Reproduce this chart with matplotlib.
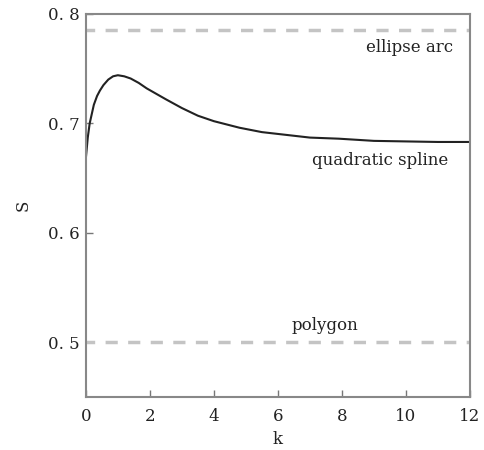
import numpy as np
import matplotlib
matplotlib.use("Agg")
import matplotlib.pyplot as plt

# curve
k = [0, 0.06, 0.12, 0.25, 0.35, 0.44, 0.55, 0.7, 0.85, 1.0, 1.2, 1.4, 1.65,
     1.9, 2.2, 2.5, 3.0, 3.5, 4.0, 4.8, 5.5, 6.4, 7.0, 7.9, 9.0, 10.0, 11.0, 12.0]
s = [0.668, 0.687, 0.700, 0.717, 0.725, 0.730, 0.735, 0.740, 0.743, 0.744,
     0.743, 0.741, 0.737, 0.732, 0.727, 0.722, 0.714, 0.707, 0.702, 0.696,
     0.692, 0.689, 0.687, 0.686, 0.684, 0.6835, 0.683, 0.683]

ellipse_arc = 0.785
polygon = 0.5

xticks = [0, 2, 4, 6, 8, 10, 12]
yticks = [0.5, 0.6, 0.7, 0.8]
ytick_labels = ["0. 5", "0. 6", "0. 7", "0. 8"]

plt.rcParams['font.family'] = ['DejaVu Serif']

fig = plt.figure(figsize=(4.85, 4.5), dpi=100)
ax = fig.add_axes([0.177, 0.118, 0.792, 0.851])

ax.axhline(ellipse_arc, color="#c4c4c4", lw=2.5, ls=(1, (3.5, 3)))
ax.axhline(polygon, color="#c4c4c4", lw=2.5, ls=(1, (3.5, 3)))
ax.plot(k, s, color="#222222", lw=1.5)

ax.text(11.47, 0.769, "ellipse arc", ha="right", va="center", fontsize=12, color="#222222")
ax.text(11.31, 0.6664, "quadratic spline", ha="right", va="center", fontsize=12, color="#222222")
ax.text(7.47, 0.5155, "polygon", ha="center", va="center", fontsize=12, color="#222222")

ax.set_xlim(0, 12)
ax.set_ylim(0.45, 0.8)
ax.set_xticks(xticks)
ax.set_yticks(yticks)
ax.set_yticklabels(ytick_labels)
ax.tick_params(direction="in", length=5, width=1, color="#777777",
               labelsize=12, labelcolor="#222222")
ax.tick_params(axis="x", pad=8)
ax.tick_params(axis="y", pad=4.5)
ax.set_xlabel("k", fontsize=12, labelpad=4, color="#222222")
ax.set_ylabel("S", fontsize=12, labelpad=12, color="#222222")
for sp in ax.spines.values():
    sp.set_color("#888888")
    sp.set_linewidth(1.5)

fig.savefig("out.png", dpi=100)
